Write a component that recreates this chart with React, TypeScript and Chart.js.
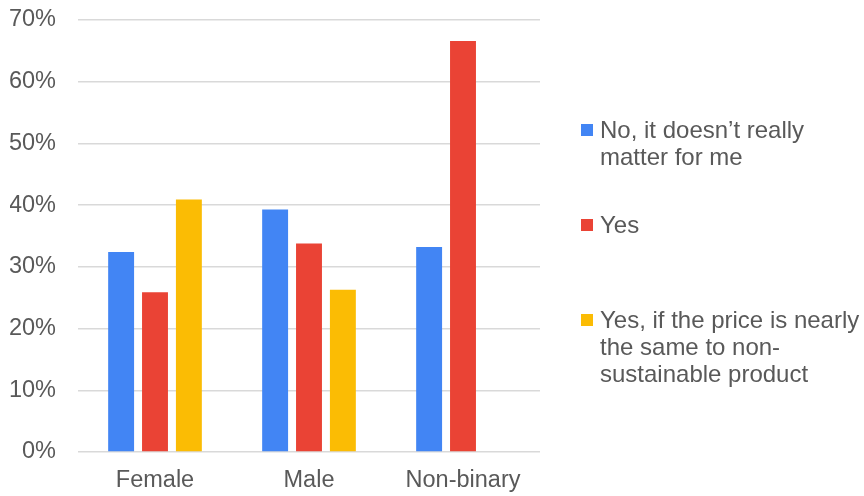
import React, { useEffect, useRef } from "react";
import { Chart, registerables } from "chart.js";

Chart.register(...registerables);

const categories = ["Female", "Male", "Non-binary"];
const seriesLabels = [
  ["No, it doesn\u2019t really", "matter for me"],
  ["Yes"],
  ["Yes, if the price is nearly", "the same to non-", "sustainable product"],
];
const noMatter = [32.4, 39.3, 33.2];
const yes = [25.9, 33.8, 66.6];
const yesIfPrice = [40.9, 26.3, null];
const seriesColors = ["#4285F4", "#EA4335", "#FBBC04"];
const yTicks = [0, 10, 20, 30, 40, 50, 60, 70];

const FONT = "'Liberation Sans', Arial, sans-serif";
const TEXT = "#595959";

export default function App() {
  const ref = useRef<HTMLCanvasElement | null>(null);

  useEffect(() => {
    if (!ref.current) return;
    const values = [noMatter, yes, yesIfPrice];
    const chart = new Chart(ref.current, {
      type: "bar",
      data: {
        labels: categories,
        datasets: values.map((v, i) => ({
          label: seriesLabels[i].join(" "),
          data: v,
          backgroundColor: seriesColors[i],
          borderWidth: 0,
          barPercentage: 0.765,
          categoryPercentage: 0.66,
        })),
      },
      options: {
        animation: false,
        responsive: false,
        maintainAspectRatio: false,
        layout: { padding: { left: 10, right: 324, top: 20, bottom: 2 } },
        plugins: { legend: { display: false }, tooltip: { enabled: false } },
        scales: {
          x: {
            grid: { display: false, drawTicks: false },
            border: { display: false },
            ticks: { color: TEXT, font: { family: FONT, size: 23.5 }, padding: 14 },
            afterFit: (s: any) => {
              s.height = 42;
              s.paddingLeft = 0;
              s.paddingRight = 0;
            },
          },
          y: {
            min: yTicks[0],
            max: yTicks[yTicks.length - 1],
            afterBuildTicks: (s: any) => {
              s.ticks = yTicks.map((v) => ({ value: v }));
            },
            afterFit: (s: any) => {
              s.width = 68;
              s.paddingTop = 0;
              s.paddingBottom = 0;
            },
            grid: { color: "#d9d9d9", lineWidth: 1.5, drawTicks: false },
            border: { display: false },
            ticks: {
              color: TEXT,
              font: { family: FONT, size: 23.5 },
              padding: 22,
              callback: (v: any) => v + "%",
            },
          },
        },
      },
    });
    return () => chart.destroy();
  }, []);

  const tops = [116, 211, 306];

  return (
    <div style={{ position: "fixed", left: 0, top: 0, width: 864, height: 496, background: "#fff" }}>
      <canvas ref={ref} width={864} height={496} style={{ display: "block" }} />
      {seriesLabels.map((lines, i) => (
        <div
          key={i}
          style={{ position: "absolute", left: 581, top: tops[i], display: "flex", alignItems: "flex-start" }}
        >
          <div
            style={{ width: 12, height: 12, background: seriesColors[i], marginTop: 8, marginRight: 7 }}
          />
          <div style={{ fontFamily: FONT, fontSize: 24, lineHeight: "27px", color: TEXT, whiteSpace: "nowrap" }}>
            {lines.map((l, j) => (
              <div key={j}>{l}</div>
            ))}
          </div>
        </div>
      ))}
    </div>
  );
}
